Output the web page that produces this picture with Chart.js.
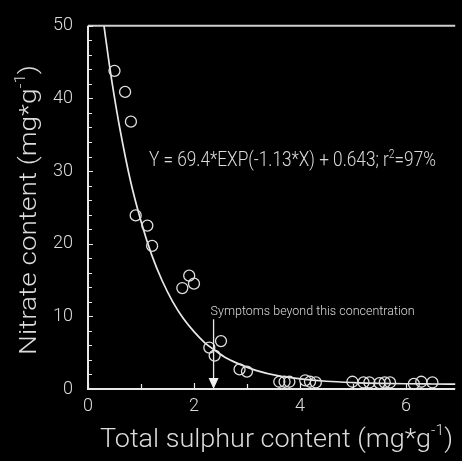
<!DOCTYPE html>
<html><head><meta charset="utf-8">
<script src="https://cdn.jsdelivr.net/npm/chart.js@4"></script>
<style>html,body{margin:0;padding:0;background:#000;overflow:hidden;}</style>
</head><body><canvas id="c" width="462" height="461"></canvas>
<script>
// Observed points: total sulphur (mg/g) vs nitrate (mg/g)
const sulphur = [0.50,0.70,0.81,0.90,1.12,1.21,1.78,1.91,2.00,2.29,2.39,2.51,2.86,3.00,3.61,3.71,3.80,4.10,4.19,4.30,4.99,5.20,5.31,5.50,5.60,5.70,6.15,6.29,6.50];
const nitrate = [43.8,40.9,36.8,23.9,22.5,19.7,13.9,15.6,14.5,5.7,4.6,6.6,2.7,2.4,1.0,1.0,1.0,1.2,1.0,0.9,1.0,0.9,0.9,0.8,0.9,0.9,0.7,1.0,0.9];
// Fitted curve
const fitX = [0.30,0.40,0.50,0.60,0.80,1.00,1.20,1.40,1.60,1.80,2.00,2.20,2.40,2.60,2.80,3.20,3.60,4.00,4.50,5.00,5.50,6.00,6.50,7.00];
const fitY = [50.1,44.8,40.1,35.9,28.7,23.1,18.5,14.9,12.0,9.7,7.9,6.4,5.3,4.3,3.6,2.5,1.8,1.4,1.07,0.89,0.78,0.72,0.69,0.67];
const xTickValues = [0,2,4,6];
const yTickValues = [0,10,20,30,40,50];
const xTitleMain = 'Total sulphur content (mg*g';
const yTitleMain = 'Nitrate content (mg*g';
const unitSup = '-1';
const eqMain = 'Y = 69.4*EXP(-1.13*X) + 0.643; r';
const eqSup = '2';
const eqTail = '=97%';
const noteText = 'Symptoms beyond this concentration';
const thresholdX = 2.37;

const TXT = '#dcdcdc';
const LINE = '#e8e8e8';
const FAM = 'Roboto, "Liberation Sans", sans-serif';

// draws text parts (with raised superscripts) squeezed to a given width
function drawFitted(ctx, parts, x, y, width, align){
  let total = 0;
  parts.forEach(p=>{ctx.font=p[1]; total += ctx.measureText(p[0]).width;});
  const sx = width/total;
  ctx.save();
  ctx.translate(align==='center' ? x - width/2 : x, y);
  ctx.scale(sx, 1);
  let cx = 0;
  parts.forEach(p=>{ctx.font=p[1]; ctx.fillText(p[0], cx, p[2]); cx += ctx.measureText(p[0]).width;});
  ctx.restore();
}

const decor = {
  id:'decor',
  afterDatasetsDraw(chart){
    const {ctx, chartArea:a, scales:{x, y}} = chart;
    ctx.save();
    ctx.strokeStyle = LINE; ctx.fillStyle = TXT;
    // frame
    ctx.lineWidth = 2;
    ctx.strokeStyle = '#cfcfcf';
    ctx.beginPath(); ctx.moveTo(a.left, a.top); ctx.lineTo(a.right, a.top); ctx.stroke();
    ctx.strokeStyle = LINE;
    ctx.beginPath(); ctx.moveTo(a.left, a.top); ctx.lineTo(a.left, a.bottom); ctx.lineTo(a.right, a.bottom); ctx.stroke();
    // inward ticks
    ctx.lineWidth = 1.2;
    ctx.beginPath();
    for(let v=0; v<=50; v+=2){ const py=Math.round(y.getPixelForValue(v))+0.5; ctx.moveTo(a.left, py); ctx.lineTo(a.left+(v%10===0?5:4), py); }
    for(let v=0; v<=7; v+=1){ const px=Math.round(x.getPixelForValue(v))+0.5; if(px>a.right) continue; ctx.moveTo(px, a.bottom); ctx.lineTo(px, a.bottom-(v%2===0?6:5)); }
    ctx.stroke();
    // threshold arrow
    const ax = x.getPixelForValue(thresholdX);
    ctx.lineWidth = 1.3;
    ctx.beginPath(); ctx.moveTo(ax, y.getPixelForValue(9.6)); ctx.lineTo(ax, y.getPixelForValue(1.4)); ctx.stroke();
    ctx.fillStyle = '#f0f0f0';
    ctx.beginPath(); ctx.moveTo(ax-5, y.getPixelForValue(1.5)); ctx.lineTo(ax+5, y.getPixelForValue(1.5)); ctx.lineTo(ax, y.getPixelForValue(0)); ctx.closePath(); ctx.fill();
    // note
    ctx.fillStyle = TXT;
    ctx.textBaseline = 'alphabetic'; ctx.textAlign = 'left';
    drawFitted(ctx, [[noteText, '300 12px '+FAM, 0]], ax-3, y.getPixelForValue(10.25), 204, 'left');
    // equation
    const eqFont = '300 20px '+FAM;
    const eqSupFont = '300 12px '+FAM;
    drawFitted(ctx, [[eqMain,eqFont,0],[eqSup,eqSupFont,-8],[eqTail,eqFont,0]], x.getPixelForValue(1.15), y.getPixelForValue(30.7), 287, 'left');
    // x title
    const tFont = '300 26px '+FAM;
    const sFont = '300 15px '+FAM;
    drawFitted(ctx, [[xTitleMain,tFont,0],[unitSup,sFont,-12],[')',tFont,0]], 276.5, 446.7, 353, 'center');
    // y title
    ctx.save();
    ctx.translate(36, 210); ctx.rotate(-Math.PI/2);
    drawFitted(ctx, [[yTitleMain,'300 23px '+FAM,0],[unitSup,'300 14px '+FAM,-11],[')','300 23px '+FAM,0]], 0, 0, 290, 'center');
    ctx.restore();
    ctx.restore();
  }
};

new Chart(document.getElementById('c'), {
  data:{
    datasets:[
      {type:'line', data: fitX.map((v,i)=>({x:v, y:fitY[i]})), borderColor:LINE, borderWidth:1.7, pointRadius:0, cubicInterpolationMode:'monotone', fill:false, order:2},
      {type:'scatter', data: sulphur.map((v,i)=>({x:v, y:nitrate[i]})), pointStyle:'circle', pointRadius:5.5, pointBorderWidth:1.3, borderColor:'#dedede', backgroundColor:'rgba(0,0,0,0)', order:1}
    ]
  },
  options:{
    responsive:false, devicePixelRatio:1, animation:false,
    layout:{padding:{top:20, right:0, left:0, bottom:0}},
    plugins:{legend:{display:false}, tooltip:{enabled:false}},
    scales:{
      x:{type:'linear', min:0, max:6.93,
        afterBuildTicks(s){ s.ticks = xTickValues.map(v=>({value:v})); },
        afterFit(s){ s.height = 72; },
        grid:{display:false, drawTicks:false}, border:{display:false},
        ticks:{color:TXT, padding:7, font:{family:FAM, size:18, weight:'300'}, maxRotation:0}
      },
      y:{type:'linear', min:0, max:50,
        afterBuildTicks(s){ s.ticks = yTickValues.map(v=>({value:v})); },
        afterFit(s){ s.width = 88; },
        grid:{display:false, drawTicks:false}, border:{display:false},
        ticks:{color:TXT, padding:15, font:{family:FAM, size:18, weight:'300'}}
      }
    }
  },
  plugins:[decor]
});
</script></body></html>
